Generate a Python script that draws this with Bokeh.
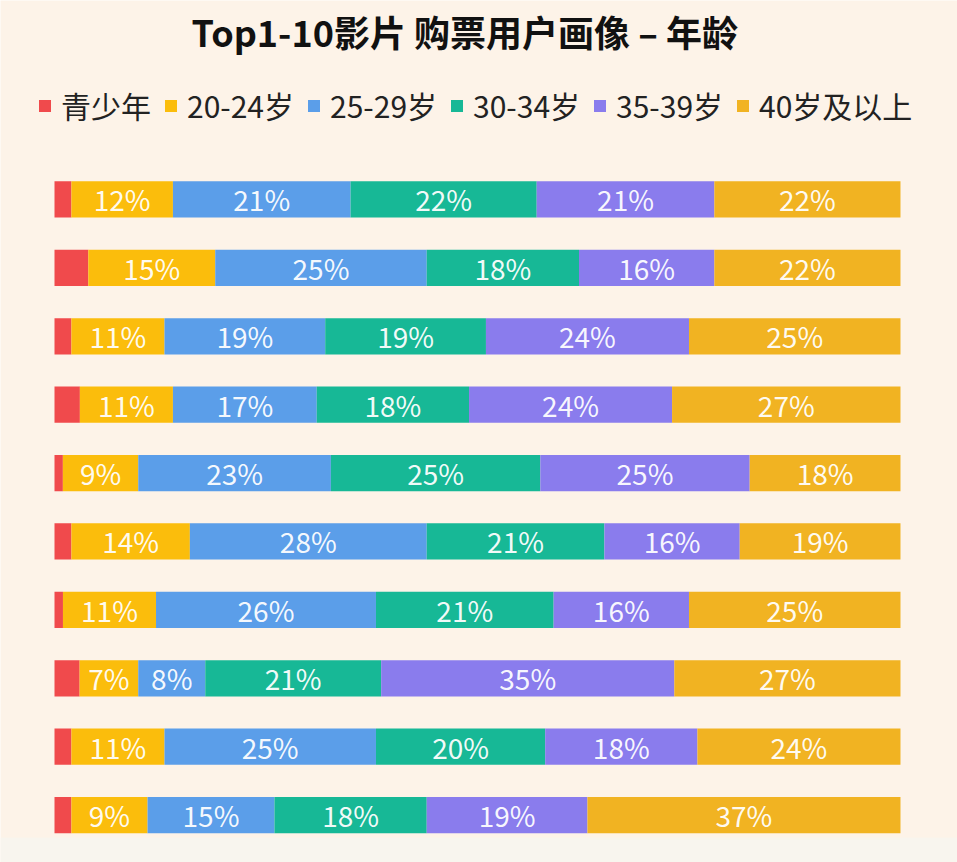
from bokeh.plotting import figure
from bokeh.models import ColumnDataSource, Range1d, Legend, LegendItem, BoxAnnotation
from bokeh.core.properties import value
from bokeh.embed import file_html
from bokeh.resources import INLINE

# Ticket-buyer age mix for the top 10 films (percent of buyers)
films = [1, 2, 3, 4, 5, 6, 7, 8, 9, 10]
groups = ["青少年", "20-24岁", "25-29岁", "30-34岁", "35-39岁", "40岁及以上"]
teen = [2, 4, 2, 3, 1, 2, 1, 3, 2, 2]
age_20_24 = [12, 15, 11, 11, 9, 14, 11, 7, 11, 9]
age_25_29 = [21, 25, 19, 17, 23, 28, 26, 8, 25, 15]
age_30_34 = [22, 18, 19, 18, 25, 21, 21, 21, 20, 18]
age_35_39 = [21, 16, 24, 24, 25, 16, 16, 35, 18, 19]
age_40_up = [22, 22, 25, 27, 18, 19, 25, 27, 24, 37]
colors = ["#F04A4C", "#FBBD0C", "#5B9EE9", "#17B896", "#8A7CED", "#F1B322"]
show_label = [False, True, True, True, True, True]

series = [teen, age_20_24, age_25_29, age_30_34, age_35_39, age_40_up]

BG = "#FDF3E8"
FONT = "Noto Sans CJK SC"

W, H = 957, 862
p = figure(width=W, height=H, output_backend="svg", toolbar_location=None,
           x_range=Range1d(-6.383, 106.74), y_range=Range1d(9.693, -2.909),
           min_border=0, background_fill_color=BG, border_fill_color=BG,
           outline_line_color=None)
p.xaxis.visible = False
p.yaxis.visible = False
p.xgrid.visible = False
p.ygrid.visible = False

# light strip along the bottom edge
p.add_layout(BoxAnnotation(top=9.33, fill_color="#F8F5EE", fill_alpha=1.0,
                           line_color=None, level="underlay"))

rows = [i - 1 for i in films]
totals = [sum(s[i] for s in series) for i in range(len(films))]

left = [0.0] * len(films)
renderers = []
for name, vals, col, lab in zip(groups, series, colors, show_label):
    share = [v / t * 100 for v, t in zip(vals, totals)]
    right = [l + s for l, s in zip(left, share)]
    src = ColumnDataSource(dict(
        y=rows, left=left, right=right,
        mid=[(l + r) / 2 for l, r in zip(left, right)],
        txt=[f"{v}%" for v in vals],
    ))
    r = p.hbar(y="y", left="left", right="right", height=0.53, source=src,
               fill_color=col, line_color=None)
    renderers.append((name, r))
    if lab:
        p.text(x="mid", y="y", text="txt", source=src, text_align="center",
               text_baseline="middle", text_color="#FFFFFF", text_alpha=0.95,
               text_font=value(FONT), text_font_size="28px")
    left = right

# title
p.text(x=[48.5], y=[-2.46], text=["Top1-10影片 购票用户画像 – 年龄"],
       text_align="center", text_baseline="middle", text_color="#111111",
       text_font=value(FONT), text_font_style="bold", text_font_size="36px")

legend = Legend(items=[LegendItem(label=n, renderers=[r]) for n, r in renderers],
                orientation="horizontal", location=(37, 735),
                glyph_width=15, glyph_height=15, label_standoff=9, spacing=12,
                padding=0, margin=0, border_line_color=None,
                background_fill_alpha=0, label_text_font=FONT,
                label_text_font_size="30px", label_text_color="#222222")
p.add_layout(legend)

open("out.html", "w").write(file_html(p, INLINE))
